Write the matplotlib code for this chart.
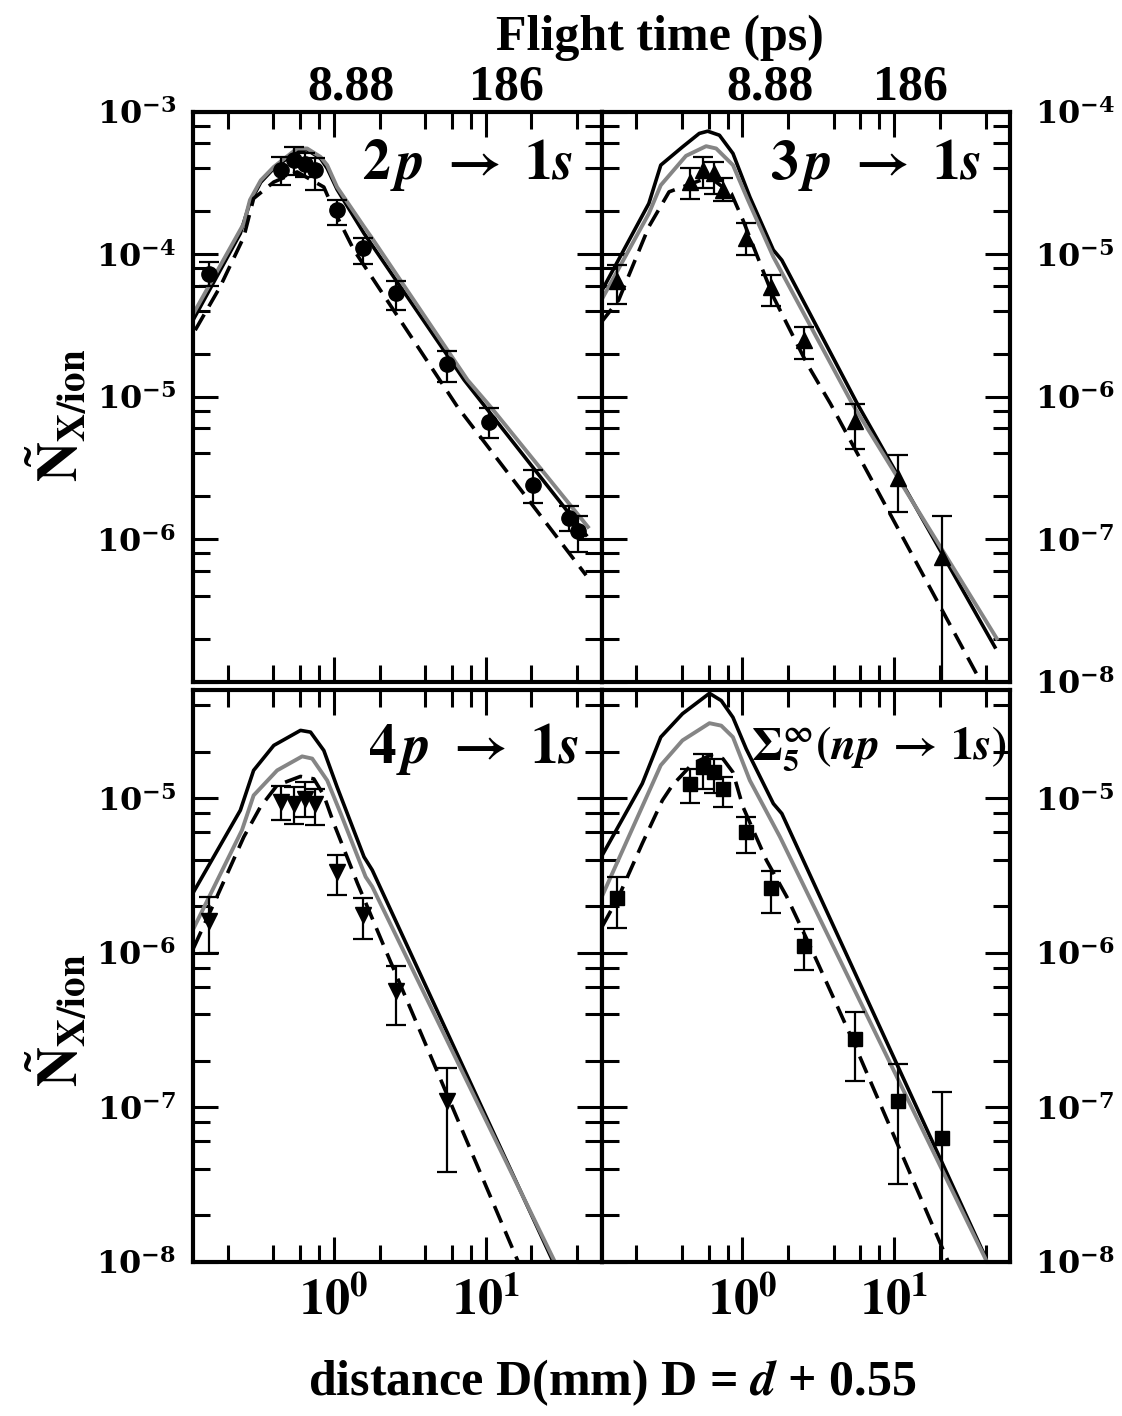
import matplotlib
matplotlib.use('Agg')
import matplotlib.pyplot as plt
import matplotlib.transforms as mtransforms
from matplotlib.ticker import FixedLocator, NullFormatter

plt.rcParams['font.family'] = ['Liberation Serif', 'DejaVu Serif']
plt.rcParams['font.weight'] = 'bold'
plt.rcParams['mathtext.fontset'] = 'stix'

# ---- measured points: x = distance D (mm) ----
pt_x = [0.15, 0.45, 0.55, 0.65, 0.75, 1.05, 1.55, 2.55, 5.55, 10.55, 20.55]
tl_px = pt_x + [35.55, 40.55]

# 2p -> 1s (circles)
tl_y = [7.3e-5, 3.9e-4, 4.55e-4, 4.3e-4, 3.9e-4, 2.05e-4, 1.1e-4, 5.3e-5, 1.7e-5, 6.6e-6, 2.4e-6, 1.4e-6, 1.15e-6]
tl_lo = [6.0e-5, 3.05e-4, 3.6e-4, 3.5e-4, 2.8e-4, 1.6e-4, 8.6e-5, 4.05e-5, 1.27e-5, 5.1e-6, 1.8e-6, 1.15e-6, 8.1e-7]
tl_hi = [8.8e-5, 4.8e-4, 5.7e-4, 5.1e-4, 4.7e-4, 2.4e-4, 1.3e-4, 6.5e-5, 2.1e-5, 8.3e-6, 3.05e-6, 1.7e-6, 1.45e-6]

# 3p -> 1s (triangles up)
tr_y = [6.5e-6, 3.2e-5, 3.9e-5, 3.7e-5, 2.8e-5, 1.3e-5, 5.9e-6, 2.5e-6, 6.8e-7, 2.7e-7, 7.5e-8]
tr_lo = [4.5e-6, 2.45e-5, 2.9e-5, 2.65e-5, 2.35e-5, 9.8e-6, 4.3e-6, 1.85e-6, 4.3e-7, 1.55e-7, 5e-9]
tr_hi = [8.4e-6, 4.0e-5, 4.8e-5, 4.45e-5, 3.4e-5, 1.65e-5, 7.1e-6, 3.1e-6, 8.9e-7, 3.9e-7, 1.45e-7]

# 4p -> 1s (triangles down)
bl_px = pt_x[:9]
bl_y = [1.6e-6, 9.4e-6, 9.2e-6, 9.9e-6, 9.2e-6, 3.3e-6, 1.75e-6, 5.6e-7, 1.1e-7]
bl_lo = [9.9e-7, 7.2e-6, 6.8e-6, 7.5e-6, 6.7e-6, 2.35e-6, 1.23e-6, 3.4e-7, 3.8e-8]
bl_hi = [2.3e-6, 1.2e-5, 1.18e-5, 1.27e-5, 1.15e-5, 4.3e-6, 2.25e-6, 8.2e-7, 1.8e-7]

# sum n>=5 (squares)
br_y = [2.25e-6, 1.24e-5, 1.58e-5, 1.47e-5, 1.15e-5, 6.0e-6, 2.6e-6, 1.1e-6, 2.75e-7, 1.1e-7, 6.3e-8]
br_lo = [1.44e-6, 9.3e-6, 1.15e-5, 1.07e-5, 8.75e-6, 4.4e-6, 1.8e-6, 7.7e-7, 1.47e-7, 3.2e-8, 5e-9]
br_hi = [3.1e-6, 1.55e-5, 1.93e-5, 1.8e-5, 1.37e-5, 7.5e-6, 3.35e-6, 1.43e-6, 4.1e-7, 1.9e-7, 1.25e-7]

# ---- model curves (black solid, gray solid, black dashed) ----
tl_bx = [0.119, 0.242, 0.28, 0.33, 0.402, 0.573, 0.667, 0.817, 0.904, 1.05, 1.58, 7.22, 45.9]
tl_by = [3.5e-5, 1.4e-4, 2.3e-4, 3.2e-4, 4.0e-4, 5.3e-4, 5.4e-4, 4.7e-4, 4.0e-4, 2.85e-4, 1.4e-4, 1.31e-5, 1.07e-6]
tl_gx = [0.119, 0.255, 0.28, 0.33, 0.402, 0.573, 0.667, 0.817, 0.904, 1.05, 1.58, 1.79, 7.6, 10.8, 47.2]
tl_gy = [3.84e-5, 1.64e-4, 2.4e-4, 3.3e-4, 4.1e-4, 5.52e-4, 5.52e-4, 4.82e-4, 4.22e-4, 2.96e-4, 1.56e-4, 1.29e-4, 1.31e-5, 8.47e-6, 1.22e-6]
tl_dx = [0.122, 0.178, 0.255, 0.296, 0.402, 0.573, 0.859, 1.0, 1.355, 6.53, 45.9]
tl_dy = [2.93e-5, 5.9e-5, 1.32e-4, 2.46e-4, 3.21e-4, 3.78e-4, 2.96e-4, 2.04e-4, 1.07e-4, 8.47e-6, 5.58e-7]

tr_bx = [0.119, 0.242, 0.29, 0.403, 0.52, 0.591, 0.706, 0.867, 1.12, 1.6, 1.82, 5.71, 46.1]
tr_by = [5.58e-6, 2.27e-5, 4.22e-5, 5.66e-5, 7.04e-5, 7.3e-5, 6.84e-5, 5.09e-5, 2.52e-5, 1.07e-5, 9.08e-6, 8.95e-7, 1.75e-8]
tr_gx = [0.116, 0.242, 0.29, 0.425, 0.577, 0.672, 0.867, 1.09, 1.6, 5.29, 47.4]
tr_gy = [4.62e-6, 1.93e-5, 3.05e-5, 4.9e-5, 5.73e-5, 5.52e-5, 4.22e-5, 2.39e-5, 9.57e-6, 8.95e-7, 2.01e-8]
tr_dx = [0.116, 0.153, 0.242, 0.329, 0.607, 0.845, 1.01, 1.6, 2.66, 3.8, 35.8]
tr_dy = [3.27e-6, 4.76e-6, 1.56e-5, 2.74e-5, 3.48e-5, 2.67e-5, 1.73e-5, 5.02e-6, 1.71e-6, 8.95e-7, 1.08e-8]

bl_bx = [0.116, 0.242, 0.296, 0.402, 0.603, 0.702, 0.859, 1.05, 1.58, 1.79, 27.7]
bl_by = [2.36e-6, 8.33e-6, 1.51e-5, 2.19e-5, 2.74e-5, 2.67e-5, 2.03e-5, 1.18e-5, 4.16e-6, 3.42e-6, 1.01e-8]
bl_gx = [0.116, 0.248, 0.296, 0.423, 0.618, 0.72, 0.904, 1.11, 1.62, 1.79, 28.4]
bl_gy = [1.36e-6, 6.19e-6, 1.04e-5, 1.51e-5, 1.86e-5, 1.8e-5, 1.3e-5, 7.93e-6, 3.09e-6, 2.67e-6, 1.01e-8]
bl_dx = [0.119, 0.166, 0.255, 0.328, 0.423, 0.603, 0.738, 0.859, 1.0, 1.43, 2.19, 16.3]
bl_dy = [1.07e-6, 2.19e-6, 5.6e-6, 8.75e-6, 1.21e-5, 1.38e-5, 1.33e-5, 1.04e-5, 6.84e-6, 2.81e-6, 1.04e-6, 1.01e-8]

br_bx = [0.116, 0.219, 0.29, 0.403, 0.607, 0.726, 0.866, 1.06, 1.6, 1.82, 39.6]
br_by = [4.06e-6, 1.24e-5, 2.48e-5, 3.51e-5, 4.76e-5, 4.27e-5, 3.33e-5, 2.08e-5, 9.2e-6, 7.93e-6, 1.09e-8]
br_gx = [0.116, 0.29, 0.403, 0.607, 0.726, 0.866, 1.12, 1.77, 40.6]
br_gy = [2.19e-6, 1.63e-5, 2.36e-5, 3.05e-5, 2.94e-5, 2.48e-5, 1.3e-5, 5.6e-6, 1.01e-8]
br_dx = [0.119, 0.153, 0.219, 0.297, 0.346, 0.47, 0.607, 0.743, 0.866, 1.01, 1.44, 1.96, 2.87, 5.43, 22.6]
br_dy = [1.47e-6, 2.3e-6, 5.08e-6, 9.66e-6, 1.21e-5, 1.67e-5, 1.88e-5, 1.8e-5, 1.47e-5, 8.75e-6, 3.96e-6, 2.3e-6, 1.04e-6, 2.6e-7, 1.01e-8]

x_minor = [0.2, 0.4, 0.6, 0.8, 2, 4, 6, 8, 20, 40]
flight_labels = ['8.88', '186']


def decade_label(e):
    return r'$\mathbf{10^{%d}}$' % e


def minor_y(lo_exp, hi_exp):
    return [m * 10.0 ** e for e in range(lo_exp, hi_exp) for m in (2, 4, 6, 8)]


fig = plt.figure(figsize=(11.22, 14.16), dpi=100)
L, W = 0.172, 0.3641
R = 0.5361
top_y, top_h = 0.5186, 0.4025
bot_y, bot_h = 0.1090, 0.4037

ax_tl = fig.add_axes([L, top_y, W, top_h])
ax_tr = fig.add_axes([R, top_y, W, top_h])
ax_bl = fig.add_axes([L, bot_y, W, bot_h])
ax_br = fig.add_axes([R, bot_y, W, bot_h])

panels = [
    (ax_tl, (1e-7, 1e-3), range(-7, -2), [-3, -4, -5, -6], 'left', True,
     (tl_bx, tl_by), (tl_gx, tl_gy), (tl_dx, tl_dy), (tl_px, tl_y, tl_lo, tl_hi, 'o', 11)),
    (ax_tr, (1e-8, 1e-4), range(-8, -3), [-4, -5, -6, -7, -8], 'right', True,
     (tr_bx, tr_by), (tr_gx, tr_gy), (tr_dx, tr_dy), (pt_x, tr_y, tr_lo, tr_hi, '^', 12)),
    (ax_bl, (1e-8, 5e-5), range(-8, -4), [-5, -6, -7, -8], 'left', False,
     (bl_bx, bl_by), (bl_gx, bl_gy), (bl_dx, bl_dy), (bl_px, bl_y, bl_lo, bl_hi, 'v', 12)),
    (ax_br, (1e-8, 5e-5), range(-8, -4), [-5, -6, -7, -8], 'right', False,
     (br_bx, br_by), (br_gx, br_gy), (br_dx, br_dy), (pt_x, br_y, br_lo, br_hi, 's', 10)),
]

for ax, ylim, majors, labeled, side, is_top, blk, gry, dsh, pts in panels:
    ax.set_xscale('log')
    ax.set_yscale('log')
    ax.plot(blk[0], blk[1], color='black', lw=2.6, solid_joinstyle='round')
    ax.plot(gry[0], gry[1], color='#858585', lw=2.8, solid_joinstyle='round')
    ax.plot(dsh[0], dsh[1], color='black', lw=2.6, linestyle=(0, (5, 2.6)))
    px, py, plo, phi, mk, ms = pts
    yerr = [[a - b for a, b in zip(py, plo)], [c - a for a, c in zip(py, phi)]]
    ax.errorbar(px, py, yerr=yerr, fmt=mk, ms=ms, color='black', ecolor='black',
                elinewidth=1.6, capsize=7, capthick=1.6, zorder=5)

    ax.set_xlim(0.118, 58)
    ax.set_ylim(*ylim)
    for s in ax.spines.values():
        s.set_linewidth(3)

    ax.xaxis.set_major_locator(FixedLocator([1, 10]))
    ax.xaxis.set_minor_locator(FixedLocator(x_minor))
    ax.xaxis.set_minor_formatter(NullFormatter())
    if is_top:
        ax.set_xticklabels([])
    else:
        ax.set_xticks([1, 10], [decade_label(0), decade_label(1)],
                      fontsize=36, math_fontfamily='stix')

    ymaj = [10.0 ** e for e in majors]
    ylab = [decade_label(e) if e in labeled else '' for e in majors]
    ax.set_yticks(ymaj, ylab, fontsize=23, math_fontfamily='dejavuserif')
    ax.yaxis.set_minor_locator(FixedLocator(minor_y(majors[0], majors[-1] + 1)))
    ax.yaxis.set_minor_formatter(NullFormatter())
    ax.set_ylim(*ylim)

    ax.tick_params(which='both', direction='in', top=True, bottom=True,
                   left=True, right=True, width=2.2)
    ax.tick_params(which='major', length=18)
    ax.tick_params(which='minor', length=12)
    ax.tick_params(axis='x', pad=12)
    if side == 'left':
        ax.tick_params(axis='y', labelleft=True, labelright=False, pad=12)
    else:
        ax.tick_params(axis='y', labelleft=False, labelright=True, pad=18)

# panel labels
arrow_fmt = r'$\mathbf{%s}\,\mathbfit{p}\ \mathbf{\rightarrow}\ \mathbf{1}\mathbfit{s}$'
ax_tl.text(0.93, 0.955, arrow_fmt % '2', transform=ax_tl.transAxes,
           ha='right', va='top', fontsize=40)
ax_tr.text(0.93, 0.955, arrow_fmt % '3', transform=ax_tr.transAxes,
           ha='right', va='top', fontsize=40)
ax_bl.text(0.945, 0.945, arrow_fmt % '4', transform=ax_bl.transAxes,
           ha='right', va='top', fontsize=40)
ax_br.text(0.99, 0.94, r'$\Sigma_{5}^{\infty}(\mathbfit{np}\,\mathbf{\rightarrow}\,\mathbf{1}\mathbfit{s})$',
           transform=ax_br.transAxes, ha='right', va='top', fontsize=33)

# flight time labels on the top axis
for ax, xs in ((ax_tl, [1.29, 13.8]), (ax_tr, [1.52, 12.9])):
    trans = mtransforms.blended_transform_factory(ax.transData, ax.transAxes)
    for xv, lab in zip(xs, flight_labels):
        ax.text(xv, 1.042, lab, transform=trans, ha='center', va='center',
                fontsize=36, fontweight='bold')

fig.text(660 / 1122, 1 - 38 / 1416, 'Flight time (ps)', ha='center', va='center',
         fontsize=36, fontweight='bold')
fig.text(612 / 1122, 1 - 1383 / 1416, r'distance D(mm) D = $\mathbfit{d}$ + 0.55',
         ha='center', va='center', fontsize=36, fontweight='bold')
for yc in (415, 1020):
    fig.text(58 / 1122, 1 - yc / 1416, r'$\mathbf{\tilde{N}_{X/ion}}$', rotation=90,
             ha='center', va='center', fontsize=40)

fig.savefig('out.png', dpi=100)
